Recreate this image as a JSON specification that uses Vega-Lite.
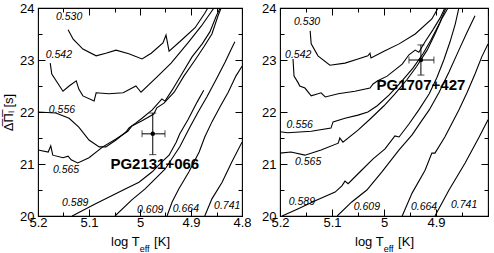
{
"$schema": "https://vega.github.io/schema/vega-lite/v6.json",
"padding": {"left": 1, "top": 1, "right": 0, "bottom": 0},
"config": {
  "view": {"stroke": "black", "strokeWidth": 1.1},
  "font": "Liberation Sans",
  "concat": {"spacing": 8},
  "axis": {"labelFont": "Liberation Sans", "titleFont": "Liberation Sans", "labelFontSize": 13, "titleFontSize": 13, "titleFontWeight": "normal", "labelColor": "black", "titleColor": "black", "tickColor": "black", "tickWidth": 1, "domain": false, "grid": false, "labelOverlap": false, "labelFlush": false}
},
"datasets": {
"curves": [
{"panel":"L","mass":"0.530","i":0,"logT":5.141,"dP":23.58},{"panel":"L","mass":"0.530","i":1,"logT":5.131,"dP":23.40},{"panel":"L","mass":"0.530","i":2,"logT":5.112,"dP":23.21},{"panel":"L","mass":"0.530","i":3,"logT":5.086,"dP":23.08},{"panel":"L","mass":"0.530","i":4,"logT":5.067,"dP":23.13},{"panel":"L","mass":"0.530","i":5,"logT":5.047,"dP":23.19},{"panel":"L","mass":"0.530","i":6,"logT":5.022,"dP":23.12},{"panel":"L","mass":"0.530","i":7,"logT":4.996,"dP":23.02},{"panel":"L","mass":"0.530","i":8,"logT":4.978,"dP":23.13},{"panel":"L","mass":"0.530","i":9,"logT":4.955,"dP":23.33},{"panel":"L","mass":"0.530","i":10,"logT":4.949,"dP":23.48},{"panel":"L","mass":"0.530","i":11,"logT":4.943,"dP":23.17},{"panel":"L","mass":"0.530","i":12,"logT":4.920,"dP":23.37},{"panel":"L","mass":"0.530","i":13,"logT":4.892,"dP":23.62},{"panel":"L","mass":"0.530","i":14,"logT":4.873,"dP":23.90},{"panel":"L","mass":"0.530","i":15,"logT":4.867,"dP":24.0},
{"panel":"L","mass":"0.542","i":0,"logT":5.176,"dP":22.94},{"panel":"L","mass":"0.542","i":1,"logT":5.173,"dP":22.73},{"panel":"L","mass":"0.542","i":2,"logT":5.151,"dP":22.40},{"panel":"L","mass":"0.542","i":3,"logT":5.139,"dP":22.50},{"panel":"L","mass":"0.542","i":4,"logT":5.125,"dP":22.60},{"panel":"L","mass":"0.542","i":5,"logT":5.120,"dP":22.44},{"panel":"L","mass":"0.542","i":6,"logT":5.112,"dP":22.31},{"panel":"L","mass":"0.542","i":7,"logT":5.090,"dP":22.21},{"panel":"L","mass":"0.542","i":8,"logT":5.086,"dP":22.37},{"panel":"L","mass":"0.542","i":9,"logT":5.061,"dP":22.35},{"panel":"L","mass":"0.542","i":10,"logT":5.033,"dP":22.37},{"panel":"L","mass":"0.542","i":11,"logT":5.008,"dP":22.50},{"panel":"L","mass":"0.542","i":12,"logT":4.998,"dP":22.38},{"panel":"L","mass":"0.542","i":13,"logT":4.965,"dP":22.69},{"panel":"L","mass":"0.542","i":14,"logT":4.939,"dP":22.94},{"panel":"L","mass":"0.542","i":15,"logT":4.906,"dP":23.33},{"panel":"L","mass":"0.542","i":16,"logT":4.880,"dP":23.65},{"panel":"L","mass":"0.542","i":17,"logT":4.855,"dP":24.0},
{"panel":"L","mass":"0.556","i":0,"logT":5.2,"dP":22.0},{"panel":"L","mass":"0.556","i":1,"logT":5.165,"dP":21.98},{"panel":"L","mass":"0.556","i":2,"logT":5.139,"dP":21.88},{"panel":"L","mass":"0.556","i":3,"logT":5.120,"dP":21.71},{"panel":"L","mass":"0.556","i":4,"logT":5.1,"dP":21.46},{"panel":"L","mass":"0.556","i":5,"logT":5.080,"dP":21.33},{"panel":"L","mass":"0.556","i":6,"logT":5.067,"dP":21.33},{"panel":"L","mass":"0.556","i":7,"logT":5.047,"dP":21.46},{"panel":"L","mass":"0.556","i":8,"logT":5.027,"dP":21.62},{"panel":"L","mass":"0.556","i":9,"logT":5.022,"dP":21.69},{"panel":"L","mass":"0.556","i":10,"logT":5.008,"dP":21.79},{"panel":"L","mass":"0.556","i":11,"logT":4.996,"dP":21.88},{"panel":"L","mass":"0.556","i":12,"logT":4.976,"dP":22.04},{"panel":"L","mass":"0.556","i":13,"logT":4.957,"dP":22.25},{"panel":"L","mass":"0.556","i":14,"logT":4.951,"dP":22.21},{"panel":"L","mass":"0.556","i":15,"logT":4.937,"dP":22.42},{"panel":"L","mass":"0.556","i":16,"logT":4.918,"dP":22.73},{"panel":"L","mass":"0.556","i":17,"logT":4.898,"dP":23.06},{"panel":"L","mass":"0.556","i":18,"logT":4.878,"dP":23.31},{"panel":"L","mass":"0.556","i":19,"logT":4.863,"dP":23.54},{"panel":"L","mass":"0.556","i":20,"logT":4.851,"dP":23.83},{"panel":"L","mass":"0.556","i":21,"logT":4.843,"dP":24.0},
{"panel":"L","mass":"0.565","i":0,"logT":5.2,"dP":21.27},{"panel":"L","mass":"0.565","i":1,"logT":5.180,"dP":21.23},{"panel":"L","mass":"0.565","i":2,"logT":5.175,"dP":21.35},{"panel":"L","mass":"0.565","i":3,"logT":5.171,"dP":21.17},{"panel":"L","mass":"0.565","i":4,"logT":5.151,"dP":21.12},{"panel":"L","mass":"0.565","i":5,"logT":5.141,"dP":21.15},{"panel":"L","mass":"0.565","i":6,"logT":5.135,"dP":21.08},{"panel":"L","mass":"0.565","i":7,"logT":5.122,"dP":21.02},{"panel":"L","mass":"0.565","i":8,"logT":5.1,"dP":21.12},{"panel":"L","mass":"0.565","i":9,"logT":5.073,"dP":21.33},{"panel":"L","mass":"0.565","i":10,"logT":5.047,"dP":21.48},{"panel":"L","mass":"0.565","i":11,"logT":5.024,"dP":21.63},{"panel":"L","mass":"0.565","i":12,"logT":5.016,"dP":21.73},{"panel":"L","mass":"0.565","i":13,"logT":4.996,"dP":21.83},{"panel":"L","mass":"0.565","i":14,"logT":4.973,"dP":21.96},{"panel":"L","mass":"0.565","i":15,"logT":4.967,"dP":22.08},{"panel":"L","mass":"0.565","i":16,"logT":4.953,"dP":22.17},{"panel":"L","mass":"0.565","i":17,"logT":4.933,"dP":22.38},{"panel":"L","mass":"0.565","i":18,"logT":4.914,"dP":22.69},{"panel":"L","mass":"0.565","i":19,"logT":4.892,"dP":23.0},{"panel":"L","mass":"0.565","i":20,"logT":4.875,"dP":23.25},{"panel":"L","mass":"0.565","i":21,"logT":4.859,"dP":23.5},{"panel":"L","mass":"0.565","i":22,"logT":4.847,"dP":23.85},{"panel":"L","mass":"0.565","i":23,"logT":4.841,"dP":24.0},
{"panel":"L","mass":"0.589","i":0,"logT":5.133,"dP":20.0},{"panel":"L","mass":"0.589","i":1,"logT":5.088,"dP":20.23},{"panel":"L","mass":"0.589","i":2,"logT":5.029,"dP":20.52},{"panel":"L","mass":"0.589","i":3,"logT":5.002,"dP":20.65},{"panel":"L","mass":"0.589","i":4,"logT":4.976,"dP":20.85},{"panel":"L","mass":"0.589","i":5,"logT":4.957,"dP":21.04},{"panel":"L","mass":"0.589","i":6,"logT":4.943,"dP":21.17},{"panel":"L","mass":"0.589","i":7,"logT":4.929,"dP":21.42},{"panel":"L","mass":"0.589","i":8,"logT":4.922,"dP":21.58},{"panel":"L","mass":"0.589","i":9,"logT":4.918,"dP":21.65},{"panel":"L","mass":"0.589","i":10,"logT":4.906,"dP":21.85},{"panel":"L","mass":"0.589","i":11,"logT":4.888,"dP":22.19},{"panel":"L","mass":"0.589","i":12,"logT":4.875,"dP":22.42},
{"panel":"L","mass":"0.609","i":0,"logT":5.049,"dP":20.0},{"panel":"L","mass":"0.609","i":1,"logT":5.016,"dP":20.31},{"panel":"L","mass":"0.609","i":2,"logT":4.990,"dP":20.52},{"panel":"L","mass":"0.609","i":3,"logT":4.951,"dP":20.90},{"panel":"L","mass":"0.609","i":4,"logT":4.922,"dP":21.33},{"panel":"L","mass":"0.609","i":5,"logT":4.902,"dP":21.71},{"panel":"L","mass":"0.609","i":6,"logT":4.886,"dP":22.0},{"panel":"L","mass":"0.609","i":7,"logT":4.869,"dP":22.29},{"panel":"L","mass":"0.609","i":8,"logT":4.851,"dP":22.62},{"panel":"L","mass":"0.609","i":9,"logT":4.833,"dP":22.96},{"panel":"L","mass":"0.609","i":10,"logT":4.820,"dP":23.23},{"panel":"L","mass":"0.609","i":11,"logT":4.814,"dP":23.35},
{"panel":"L","mass":"0.664","i":0,"logT":4.947,"dP":20.0},{"panel":"L","mass":"0.664","i":1,"logT":4.937,"dP":20.27},{"panel":"L","mass":"0.664","i":2,"logT":4.924,"dP":20.52},{"panel":"L","mass":"0.664","i":3,"logT":4.904,"dP":20.85},{"panel":"L","mass":"0.664","i":4,"logT":4.884,"dP":21.23},{"panel":"L","mass":"0.664","i":5,"logT":4.873,"dP":21.52},{"panel":"L","mass":"0.664","i":6,"logT":4.859,"dP":21.81},{"panel":"L","mass":"0.664","i":7,"logT":4.843,"dP":22.10},{"panel":"L","mass":"0.664","i":8,"logT":4.827,"dP":22.38},{"panel":"L","mass":"0.664","i":9,"logT":4.812,"dP":22.69},{"panel":"L","mass":"0.664","i":10,"logT":4.8,"dP":22.88},
{"panel":"L","mass":"0.741","i":0,"logT":4.873,"dP":20.0},{"panel":"L","mass":"0.741","i":1,"logT":4.859,"dP":20.33},{"panel":"L","mass":"0.741","i":2,"logT":4.839,"dP":20.65},{"panel":"L","mass":"0.741","i":3,"logT":4.820,"dP":21.04},{"panel":"L","mass":"0.741","i":4,"logT":4.8,"dP":21.42},
{"panel":"R","mass":"0.530","i":0,"logT":5.142,"dP":23.56},{"panel":"R","mass":"0.530","i":1,"logT":5.140,"dP":23.31},{"panel":"R","mass":"0.530","i":2,"logT":5.127,"dP":23.08},{"panel":"R","mass":"0.530","i":3,"logT":5.104,"dP":22.90},{"panel":"R","mass":"0.530","i":4,"logT":5.075,"dP":22.94},{"panel":"R","mass":"0.530","i":5,"logT":5.050,"dP":23.02},{"panel":"R","mass":"0.530","i":6,"logT":5.031,"dP":23.08},{"panel":"R","mass":"0.530","i":7,"logT":5.027,"dP":23.13},{"panel":"R","mass":"0.530","i":8,"logT":5.025,"dP":23.04},{"panel":"R","mass":"0.530","i":9,"logT":5.0,"dP":23.17},{"panel":"R","mass":"0.530","i":10,"logT":4.971,"dP":23.31},{"panel":"R","mass":"0.530","i":11,"logT":4.940,"dP":23.5},{"panel":"R","mass":"0.530","i":12,"logT":4.908,"dP":23.79},{"panel":"R","mass":"0.530","i":13,"logT":4.896,"dP":24.0},
{"panel":"R","mass":"0.542","i":0,"logT":5.175,"dP":23.02},{"panel":"R","mass":"0.542","i":1,"logT":5.173,"dP":22.69},{"panel":"R","mass":"0.542","i":2,"logT":5.165,"dP":22.56},{"panel":"R","mass":"0.542","i":3,"logT":5.162,"dP":22.5},{"panel":"R","mass":"0.542","i":4,"logT":5.152,"dP":22.46},{"panel":"R","mass":"0.542","i":5,"logT":5.140,"dP":22.31},{"panel":"R","mass":"0.542","i":6,"logT":5.127,"dP":22.35},{"panel":"R","mass":"0.542","i":7,"logT":5.121,"dP":22.37},{"panel":"R","mass":"0.542","i":8,"logT":5.113,"dP":22.29},{"panel":"R","mass":"0.542","i":9,"logT":5.088,"dP":22.35},{"panel":"R","mass":"0.542","i":10,"logT":5.056,"dP":22.40},{"panel":"R","mass":"0.542","i":11,"logT":5.027,"dP":22.46},{"panel":"R","mass":"0.542","i":12,"logT":5.021,"dP":22.54},{"panel":"R","mass":"0.542","i":13,"logT":5.012,"dP":22.60},{"panel":"R","mass":"0.542","i":14,"logT":4.994,"dP":22.69},{"panel":"R","mass":"0.542","i":15,"logT":4.965,"dP":22.92},{"panel":"R","mass":"0.542","i":16,"logT":4.952,"dP":23.10},{"panel":"R","mass":"0.542","i":17,"logT":4.940,"dP":23.19},{"panel":"R","mass":"0.542","i":18,"logT":4.933,"dP":23.15},{"panel":"R","mass":"0.542","i":19,"logT":4.921,"dP":23.35},{"panel":"R","mass":"0.542","i":20,"logT":4.906,"dP":23.58},{"panel":"R","mass":"0.542","i":21,"logT":4.892,"dP":23.81},{"panel":"R","mass":"0.542","i":22,"logT":4.883,"dP":24.0},
{"panel":"R","mass":"0.556","i":0,"logT":5.2,"dP":21.62},{"panel":"R","mass":"0.556","i":1,"logT":5.185,"dP":21.60},{"panel":"R","mass":"0.556","i":2,"logT":5.140,"dP":21.63},{"panel":"R","mass":"0.556","i":3,"logT":5.102,"dP":21.69},{"panel":"R","mass":"0.556","i":4,"logT":5.098,"dP":21.81},{"panel":"R","mass":"0.556","i":5,"logT":5.075,"dP":21.88},{"panel":"R","mass":"0.556","i":6,"logT":5.050,"dP":21.94},{"panel":"R","mass":"0.556","i":7,"logT":5.031,"dP":22.0},{"panel":"R","mass":"0.556","i":8,"logT":5.013,"dP":22.12},{"panel":"R","mass":"0.556","i":9,"logT":4.990,"dP":22.33},{"panel":"R","mass":"0.556","i":10,"logT":4.967,"dP":22.58},{"panel":"R","mass":"0.556","i":11,"logT":4.944,"dP":22.85},{"panel":"R","mass":"0.556","i":12,"logT":4.925,"dP":23.12},{"panel":"R","mass":"0.556","i":13,"logT":4.910,"dP":23.38},{"panel":"R","mass":"0.556","i":14,"logT":4.894,"dP":23.69},{"panel":"R","mass":"0.556","i":15,"logT":4.881,"dP":24.0},
{"panel":"R","mass":"0.565","i":0,"logT":5.2,"dP":21.21},{"panel":"R","mass":"0.565","i":1,"logT":5.179,"dP":21.23},{"panel":"R","mass":"0.565","i":2,"logT":5.152,"dP":21.17},{"panel":"R","mass":"0.565","i":3,"logT":5.121,"dP":21.27},{"panel":"R","mass":"0.565","i":4,"logT":5.088,"dP":21.40},{"panel":"R","mass":"0.565","i":5,"logT":5.085,"dP":21.5},{"panel":"R","mass":"0.565","i":6,"logT":5.079,"dP":21.42},{"panel":"R","mass":"0.565","i":7,"logT":5.050,"dP":21.65},{"panel":"R","mass":"0.565","i":8,"logT":5.025,"dP":21.88},{"panel":"R","mass":"0.565","i":9,"logT":5.0,"dP":22.12},{"panel":"R","mass":"0.565","i":10,"logT":4.979,"dP":22.35},{"panel":"R","mass":"0.565","i":11,"logT":4.956,"dP":22.62},{"panel":"R","mass":"0.565","i":12,"logT":4.937,"dP":22.88},{"panel":"R","mass":"0.565","i":13,"logT":4.917,"dP":23.19},{"panel":"R","mass":"0.565","i":14,"logT":4.902,"dP":23.5},{"panel":"R","mass":"0.565","i":15,"logT":4.888,"dP":23.81},{"panel":"R","mass":"0.565","i":16,"logT":4.877,"dP":24.0},
{"panel":"R","mass":"0.589","i":0,"logT":5.196,"dP":20.0},{"panel":"R","mass":"0.589","i":1,"logT":5.167,"dP":20.13},{"panel":"R","mass":"0.589","i":2,"logT":5.129,"dP":20.31},{"panel":"R","mass":"0.589","i":3,"logT":5.094,"dP":20.46},{"panel":"R","mass":"0.589","i":4,"logT":5.081,"dP":20.58},{"panel":"R","mass":"0.589","i":5,"logT":5.075,"dP":20.67},{"panel":"R","mass":"0.589","i":6,"logT":5.069,"dP":20.62},{"panel":"R","mass":"0.589","i":7,"logT":5.044,"dP":20.87},{"panel":"R","mass":"0.589","i":8,"logT":5.021,"dP":21.10},{"panel":"R","mass":"0.589","i":9,"logT":4.998,"dP":21.29},{"panel":"R","mass":"0.589","i":10,"logT":4.979,"dP":21.54},{"panel":"R","mass":"0.589","i":11,"logT":4.971,"dP":21.52},{"panel":"R","mass":"0.589","i":12,"logT":4.952,"dP":21.77},{"panel":"R","mass":"0.589","i":13,"logT":4.933,"dP":22.04},{"panel":"R","mass":"0.589","i":14,"logT":4.913,"dP":22.35},{"panel":"R","mass":"0.589","i":15,"logT":4.898,"dP":22.67},{"panel":"R","mass":"0.589","i":16,"logT":4.885,"dP":23.0},{"panel":"R","mass":"0.589","i":17,"logT":4.873,"dP":23.35},{"panel":"R","mass":"0.589","i":18,"logT":4.863,"dP":23.69},{"panel":"R","mass":"0.589","i":19,"logT":4.856,"dP":24.0},
{"panel":"R","mass":"0.609","i":0,"logT":5.090,"dP":20.0},{"panel":"R","mass":"0.609","i":1,"logT":5.062,"dP":20.27},{"panel":"R","mass":"0.609","i":2,"logT":5.033,"dP":20.5},{"panel":"R","mass":"0.609","i":3,"logT":5.004,"dP":20.85},{"panel":"R","mass":"0.609","i":4,"logT":4.971,"dP":21.27},{"panel":"R","mass":"0.609","i":5,"logT":4.946,"dP":21.56},{"panel":"R","mass":"0.609","i":6,"logT":4.929,"dP":21.81},{"panel":"R","mass":"0.609","i":7,"logT":4.913,"dP":22.04},{"panel":"R","mass":"0.609","i":8,"logT":4.894,"dP":22.38},{"panel":"R","mass":"0.609","i":9,"logT":4.875,"dP":22.77},{"panel":"R","mass":"0.609","i":10,"logT":4.856,"dP":23.19},{"panel":"R","mass":"0.609","i":11,"logT":4.840,"dP":23.54},{"panel":"R","mass":"0.609","i":12,"logT":4.825,"dP":23.85},
{"panel":"R","mass":"0.664","i":0,"logT":4.965,"dP":20.0},{"panel":"R","mass":"0.664","i":1,"logT":4.946,"dP":20.44},{"panel":"R","mass":"0.664","i":2,"logT":4.921,"dP":20.88},{"panel":"R","mass":"0.664","i":3,"logT":4.908,"dP":21.21},{"panel":"R","mass":"0.664","i":4,"logT":4.902,"dP":21.21},{"panel":"R","mass":"0.664","i":5,"logT":4.883,"dP":21.52},{"panel":"R","mass":"0.664","i":6,"logT":4.856,"dP":22.04},{"panel":"R","mass":"0.664","i":7,"logT":4.840,"dP":22.38},{"panel":"R","mass":"0.664","i":8,"logT":4.825,"dP":22.73},{"panel":"R","mass":"0.664","i":9,"logT":4.812,"dP":23.06},{"panel":"R","mass":"0.664","i":10,"logT":4.8,"dP":23.31},
{"panel":"R","mass":"0.741","i":0,"logT":4.902,"dP":20.0},{"panel":"R","mass":"0.741","i":1,"logT":4.875,"dP":20.5},{"panel":"R","mass":"0.741","i":2,"logT":4.844,"dP":21.02},{"panel":"R","mass":"0.741","i":3,"logT":4.817,"dP":21.52},{"panel":"R","mass":"0.741","i":4,"logT":4.8,"dP":21.85}
],
"labels": [
{"panel":"L","mass":"0.530","logT":5.139,"dP":23.83},{"panel":"L","mass":"0.542","logT":5.159,"dP":23.10},{"panel":"L","mass":"0.556","logT":5.153,"dP":22.04},{"panel":"L","mass":"0.565","logT":5.145,"dP":20.88},{"panel":"L","mass":"0.589","logT":5.127,"dP":20.25},{"panel":"L","mass":"0.609","logT":4.980,"dP":20.12},{"panel":"L","mass":"0.664","logT":4.910,"dP":20.13},{"panel":"L","mass":"0.741","logT":4.829,"dP":20.19},
{"panel":"R","mass":"0.530","logT":5.148,"dP":23.73},{"panel":"R","mass":"0.542","logT":5.165,"dP":23.10},{"panel":"R","mass":"0.556","logT":5.162,"dP":21.75},{"panel":"R","mass":"0.565","logT":5.146,"dP":21.04},{"panel":"R","mass":"0.589","logT":5.158,"dP":20.27},{"panel":"R","mass":"0.609","logT":5.033,"dP":20.17},{"panel":"R","mass":"0.664","logT":4.923,"dP":20.17},{"panel":"R","mass":"0.741","logT":4.846,"dP":20.21}
],
"stars": [
{"panel":"L","name":"PG2131+066","logT":4.975,"dP":21.58,"tlo":4.951,"thi":4.996,"plo":21.18,"phi":21.98,"nameT":4.971,"nameP":21.0,"subT":4.991,"subP":19.37,"sub":"eff"},
{"panel":"R","name":"PG1707+427","logT":4.929,"dP":23.0,"tlo":4.904,"thi":4.952,"plo":22.71,"phi":23.29,"nameT":4.929,"nameP":22.52,"subT":4.991,"subP":19.37,"sub":"eff"}
]
},
"hconcat": [
{
 "width": 204, "height": 208,
 "resolve": {"axis": {"x": "independent", "y": "independent"}},
 "layer": [
  {"data": {"name": "curves"}, "transform": [{"filter": "datum.panel === 'L'"}],
   "mark": {"type": "line", "color": "black", "strokeWidth": 1.1, "clip": true},
   "encoding": {
    "x": {"field": "logT", "type": "quantitative", "scale": {"domain": [4.8, 5.2], "reverse": true, "nice": false, "zero": false},
      "axis": {"orient": "bottom", "values": [5.2, 5.15, 5.1, 5.05, 5, 4.95, 4.9, 4.85, 4.8], "labelExpr": "abs(datum.value*10-round(datum.value*10))<0.01 ? ''+round(datum.value*10)/10 : ''", "tickSize": {"condition": {"test": "abs(datum.value*10-round(datum.value*10))<0.01", "value": -7}, "value": -4}, "labelPadding": 7, "title": "log T\u00a0\u00a0\u00a0 [K]", "titlePadding": 3}},
    "y": {"field": "dP", "type": "quantitative", "scale": {"domain": [20, 24], "nice": false, "zero": false},
      "axis": {"orient": "left", "values": [20, 20.5, 21, 21.5, 22, 22.5, 23, 23.5, 24], "labelExpr": "datum.value==round(datum.value) ? ''+datum.value : ''", "tickSize": {"condition": {"test": "datum.value==round(datum.value)", "value": -7}, "value": -4}, "labelPadding": 11, "title": "\u0394\u0305\u03a0\u0305\u2097 [s]", "titlePadding": 4}},
    "detail": {"field": "mass"},
    "order": {"field": "i", "type": "quantitative"}
   }},
  {"data": {"name": "labels"}, "transform": [{"filter": "datum.panel === 'L'"}],
   "mark": {"type": "text", "fontStyle": "italic", "fontSize": 10.5, "font": "Liberation Sans", "color": "black"},
   "encoding": {
    "x": {"field": "logT", "type": "quantitative", "scale": {"domain": [4.8, 5.2], "reverse": true, "nice": false, "zero": false},
      "axis": {"orient": "top", "values": [5.2, 5.15, 5.1, 5.05, 5, 4.95, 4.9, 4.85, 4.8], "labels": false, "title": null, "tickSize": {"condition": {"test": "abs(datum.value*10-round(datum.value*10))<0.01", "value": -7}, "value": -4}}},
    "y": {"field": "dP", "type": "quantitative", "scale": {"domain": [20, 24], "nice": false, "zero": false},
      "axis": {"orient": "right", "values": [20, 20.5, 21, 21.5, 22, 22.5, 23, 23.5, 24], "labels": false, "title": null, "tickSize": {"condition": {"test": "datum.value==round(datum.value)", "value": -7}, "value": -4}}},
    "text": {"field": "mass"}
   }},
  {"data": {"name": "stars"}, "transform": [{"filter": "datum.panel === 'L'"}],
   "mark": {"type": "errorbar", "color": "black", "ticks": {"size": 7, "color": "black"}, "rule": {"strokeWidth": 1}},
   "encoding": {"x": {"field": "tlo", "type": "quantitative", "axis": null}, "x2": {"field": "thi"}, "y": {"field": "dP", "type": "quantitative", "axis": null}}},
  {"data": {"name": "stars"}, "transform": [{"filter": "datum.panel === 'L'"}],
   "mark": {"type": "errorbar", "color": "black", "ticks": {"size": 7, "color": "black"}, "rule": {"strokeWidth": 1}},
   "encoding": {"y": {"field": "plo", "type": "quantitative", "axis": null}, "y2": {"field": "phi"}, "x": {"field": "logT", "type": "quantitative", "axis": null}}},
  {"data": {"name": "stars"}, "transform": [{"filter": "datum.panel === 'L'"}],
   "mark": {"type": "point", "filled": true, "color": "black", "size": 20, "opacity": 1},
   "encoding": {"x": {"field": "logT", "type": "quantitative", "axis": null}, "y": {"field": "dP", "type": "quantitative", "axis": null}}},
  {"data": {"name": "stars"}, "transform": [{"filter": "datum.panel === 'L'"}],
   "mark": {"type": "text", "fontWeight": "bold", "fontSize": 15, "font": "Liberation Sans", "color": "black"},
   "encoding": {"x": {"field": "nameT", "type": "quantitative", "axis": null}, "y": {"field": "nameP", "type": "quantitative", "axis": null}, "text": {"field": "name"}}},
  {"data": {"name": "stars"}, "transform": [{"filter": "datum.panel === 'L'"}],
   "mark": {"type": "text", "fontSize": 9, "font": "Liberation Sans", "color": "black", "clip": false},
   "encoding": {"x": {"field": "subT", "type": "quantitative", "axis": null}, "y": {"field": "subP", "type": "quantitative", "axis": null}, "text": {"field": "sub"}}}
 ]
},
{
 "width": 208, "height": 208,
 "resolve": {"axis": {"x": "independent", "y": "independent"}},
 "layer": [
  {"data": {"name": "curves"}, "transform": [{"filter": "datum.panel === 'R'"}],
   "mark": {"type": "line", "color": "black", "strokeWidth": 1.1, "clip": true},
   "encoding": {
    "x": {"field": "logT", "type": "quantitative", "scale": {"domain": [4.8, 5.2], "reverse": true, "nice": false, "zero": false},
      "axis": {"orient": "bottom", "values": [5.2, 5.15, 5.1, 5.05, 5, 4.95, 4.9, 4.85, 4.8], "labelExpr": "abs(datum.value*10-round(datum.value*10))<0.01 && datum.value>4.85 ? ''+round(datum.value*10)/10 : ''", "tickSize": {"condition": {"test": "abs(datum.value*10-round(datum.value*10))<0.01", "value": -7}, "value": -4}, "labelPadding": 7, "title": "log T\u00a0\u00a0\u00a0 [K]", "titlePadding": 3}},
    "y": {"field": "dP", "type": "quantitative", "scale": {"domain": [20, 24], "nice": false, "zero": false},
      "axis": {"orient": "left", "values": [20, 20.5, 21, 21.5, 22, 22.5, 23, 23.5, 24], "labelExpr": "datum.value==round(datum.value) ? ''+datum.value : ''", "tickSize": {"condition": {"test": "datum.value==round(datum.value)", "value": -7}, "value": -4}, "labelPadding": 11, "title": null}},
    "detail": {"field": "mass"},
    "order": {"field": "i", "type": "quantitative"}
   }},
  {"data": {"name": "labels"}, "transform": [{"filter": "datum.panel === 'R'"}],
   "mark": {"type": "text", "fontStyle": "italic", "fontSize": 10.5, "font": "Liberation Sans", "color": "black"},
   "encoding": {
    "x": {"field": "logT", "type": "quantitative", "scale": {"domain": [4.8, 5.2], "reverse": true, "nice": false, "zero": false},
      "axis": {"orient": "top", "values": [5.2, 5.15, 5.1, 5.05, 5, 4.95, 4.9, 4.85, 4.8], "labels": false, "title": null, "tickSize": {"condition": {"test": "abs(datum.value*10-round(datum.value*10))<0.01", "value": -7}, "value": -4}}},
    "y": {"field": "dP", "type": "quantitative", "scale": {"domain": [20, 24], "nice": false, "zero": false},
      "axis": {"orient": "right", "values": [20, 20.5, 21, 21.5, 22, 22.5, 23, 23.5, 24], "labels": false, "title": null, "tickSize": {"condition": {"test": "datum.value==round(datum.value)", "value": -7}, "value": -4}}},
    "text": {"field": "mass"}
   }},
  {"data": {"name": "stars"}, "transform": [{"filter": "datum.panel === 'R'"}],
   "mark": {"type": "errorbar", "color": "black", "ticks": {"size": 7, "color": "black"}, "rule": {"strokeWidth": 1}},
   "encoding": {"x": {"field": "tlo", "type": "quantitative", "axis": null}, "x2": {"field": "thi"}, "y": {"field": "dP", "type": "quantitative", "axis": null}}},
  {"data": {"name": "stars"}, "transform": [{"filter": "datum.panel === 'R'"}],
   "mark": {"type": "errorbar", "color": "black", "ticks": {"size": 7, "color": "black"}, "rule": {"strokeWidth": 1}},
   "encoding": {"y": {"field": "plo", "type": "quantitative", "axis": null}, "y2": {"field": "phi"}, "x": {"field": "logT", "type": "quantitative", "axis": null}}},
  {"data": {"name": "stars"}, "transform": [{"filter": "datum.panel === 'R'"}],
   "mark": {"type": "point", "filled": true, "color": "black", "size": 20, "opacity": 1},
   "encoding": {"x": {"field": "logT", "type": "quantitative", "axis": null}, "y": {"field": "dP", "type": "quantitative", "axis": null}}},
  {"data": {"name": "stars"}, "transform": [{"filter": "datum.panel === 'R'"}],
   "mark": {"type": "text", "fontWeight": "bold", "fontSize": 15, "font": "Liberation Sans", "color": "black"},
   "encoding": {"x": {"field": "nameT", "type": "quantitative", "axis": null}, "y": {"field": "nameP", "type": "quantitative", "axis": null}, "text": {"field": "name"}}},
  {"data": {"name": "stars"}, "transform": [{"filter": "datum.panel === 'R'"}],
   "mark": {"type": "text", "fontSize": 9, "font": "Liberation Sans", "color": "black", "clip": false},
   "encoding": {"x": {"field": "subT", "type": "quantitative", "axis": null}, "y": {"field": "subP", "type": "quantitative", "axis": null}, "text": {"field": "sub"}}}
 ]
}
]
}
